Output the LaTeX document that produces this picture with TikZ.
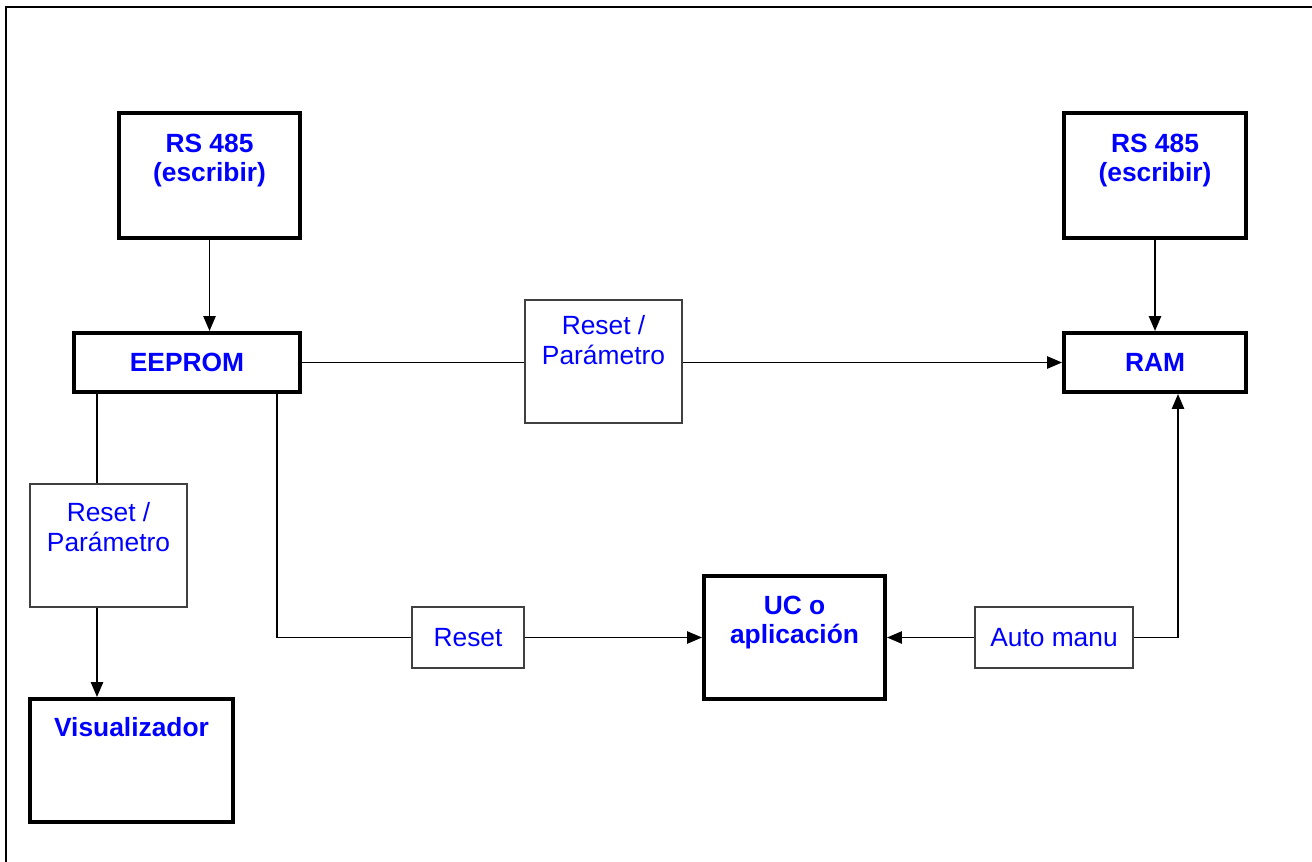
\documentclass[tikz,border=0pt]{standalone}
\usepackage{fontspec}
\setmainfont{Liberation Sans}
\usepackage{tikz}
\usetikzlibrary{calc}
\usetikzlibrary{arrows.meta}
\colorlet{colTxt}{blue}

\tikzset{
  blk/.style={draw, line width=2.3pt, inner sep=0pt, text=colTxt,
    font=\bfseries\fontsize{15}{16.5}\selectfont, align=center},
  tag/.style={draw=black!75, line width=0.7pt, fill=white, inner sep=0pt, text=colTxt,
    font=\fontsize{15}{17}\selectfont, align=center},
  blktop/.style={anchor=north, inner sep=0pt, yshift=-#1, align=center, text=colTxt,
    font=\bfseries\fontsize{15}{16.5}\selectfont},
  tagtop/.style={anchor=north, inner sep=0pt, yshift=-#1, align=center, text=colTxt,
    font=\fontsize{15}{17}\selectfont},
  link/.style={line width=0.9pt},
  arr/.style={line width=0.9pt, -{Triangle[length=8.5pt,width=7pt]}}
}

\begin{document}
\begin{tikzpicture}[x=0.02cm,y=-0.02cm]

 % ================================================================
 % frame
 % ================================================================
	\useasboundingbox (0,0) rectangle (1312,862);
	\clip (0,0) rectangle (1312,862);
	\draw[line width=1.1pt] (6,7) rectangle (1340,890);

	% columns of the vertical links
	\coordinate (colL) at (97,0);
	\coordinate (colM) at (277,0);
	\coordinate (colR) at (1178,0);

 % ================================================================
 % blocks
 % ================================================================
	\node[blk, minimum width=3.62cm, minimum height=2.5cm,
	  label={[blktop=0.46cm]north:{RS 485\\(escribir)}}] (rsL) at (209.5,175.5) {};
	\node[blk, minimum width=3.64cm, minimum height=2.5cm,
	  label={[blktop=0.46cm]north:{RS 485\\(escribir)}}] (rsR) at (1155,175.5) {};
	\node[blk, minimum width=4.52cm, minimum height=1.18cm] (eeprom) at (187,362.5) {EEPROM};
	\node[blk, minimum width=3.64cm, minimum height=1.18cm] (ram) at (1155,362.5) {RAM};
	\node[blk, minimum width=4.06cm, minimum height=2.46cm,
	  label={[blktop=0.4cm]north:{Visualizador}}] (vis) at (131.5,760.5) {};
	\node[blk, minimum width=3.62cm, minimum height=2.46cm,
	  label={[blktop=0.44cm]north:{UC o\\aplicación}}] (uc) at (794.5,637.5) {};

	% labels on the links
	\node[tag, minimum width=3.14cm, minimum height=2.46cm,
	  label={[tagtop=0.32cm]north:{Reset /\\Parámetro}}] (tagTop) at (603.5,361.5) {};
	\node[tag, minimum width=3.14cm, minimum height=2.46cm,
	  label={[tagtop=0.38cm]north:{Reset /\\Parámetro}}] (tagLeft) at (108.5,545.5) {};
	\node[tag, minimum width=2.24cm, minimum height=1.22cm] (tagReset) at (468,637.5) {Reset};
	\node[tag, minimum width=3.16cm, minimum height=1.22cm] (tagAuto) at (1054,637.5) {Auto manu};

 % ================================================================
 % links
 % ================================================================
	\draw[arr] (rsL.south) -- (rsL.south |- eeprom.north);
	\draw[arr] (rsR.south) -- (ram.north);
	% horizontal
	\draw[link] (eeprom.east) -- (eeprom.east -| tagTop.west);
	\draw[arr] (ram.west -| tagTop.east) -- (ram.west);
	% left branch
	\draw[link] (colL |- eeprom.south) -- (colL |- tagLeft.north);
	\draw[arr] (colL |- tagLeft.south) -- (colL |- vis.north);
	% reset branch
	\draw[link] (colM |- eeprom.south) |- (tagReset.west);
	\draw[arr] (tagReset.east) -- (uc.west);
	% auto manu
	\draw[arr] (tagAuto.west) -- (uc.east);
	\draw[arr] (tagAuto.east) -| (colR |- ram.south);

\end{tikzpicture}
\end{document}
